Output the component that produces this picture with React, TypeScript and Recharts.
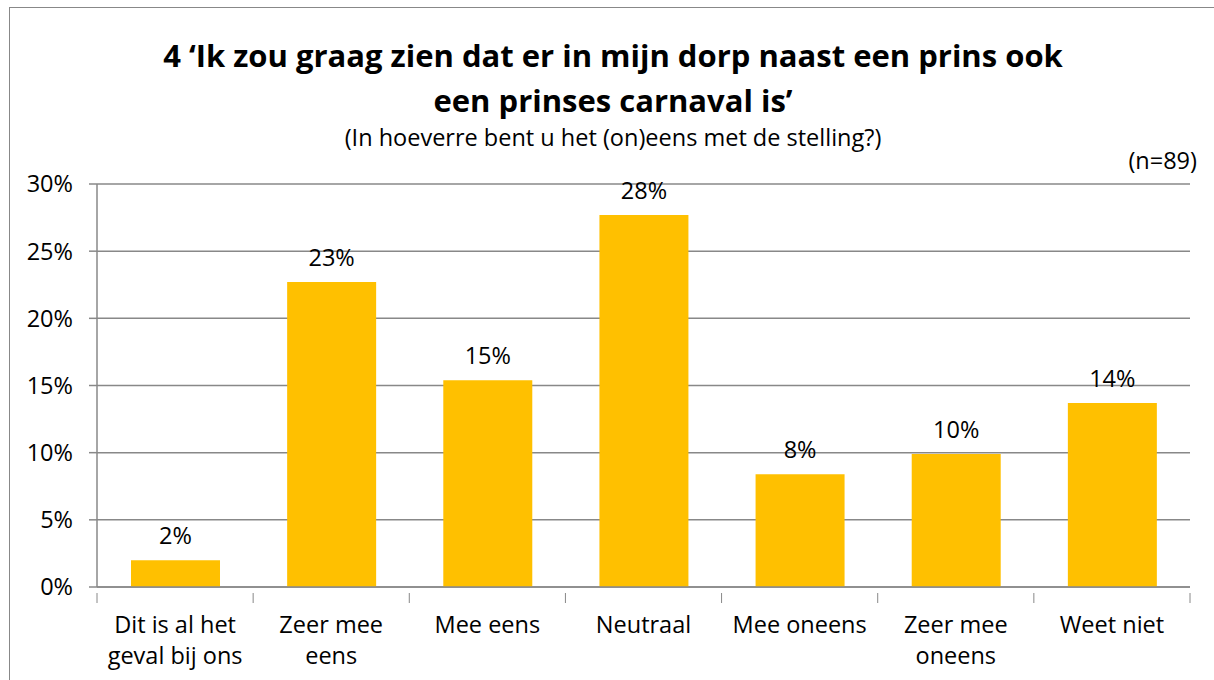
import { BarChart, Bar, XAxis, YAxis, CartesianGrid, LabelList } from "recharts";

const categories = [
  "Dit is al het\ngeval bij ons",
  "Zeer mee\neens",
  "Mee eens",
  "Neutraal",
  "Mee oneens",
  "Zeer mee\noneens",
  "Weet niet",
];
const values = [2.0, 22.7, 15.4, 27.7, 8.4, 9.9, 13.7];
const yTicks = [0, 5, 10, 15, 20, 25, 30];

const data = categories.map((c, i) => ({ name: c, value: values[i] }));

const FONT = "'Open Sans', sans-serif";
const GRID = "#888888";
const FS = 23.5;

function CatTick(props: any) {
  const { x, y, payload, index } = props;
  const half = 1093 / 7 / 2;
  const lines = String(payload.value).split("\n");
  return (
    <g>
      <line x1={x - half} x2={x - half} y1={y - 2} y2={y + 8} stroke={GRID} />
      {index === categories.length - 1 && (
        <line x1={x + half} x2={x + half} y1={y - 2} y2={y + 8} stroke={GRID} />
      )}
      {lines.map((l, i) => (
        <text key={i} x={x} y={y + 38 + i * 31} textAnchor="middle" fontSize={FS} fill="#000" fontFamily={FONT}>
          {l}
        </text>
      ))}
    </g>
  );
}

export default function App() {
  return (
    <div style={{ position: "fixed", left: 0, top: 0, width: 1214, height: 680, overflow: "hidden", background: "#fff", fontFamily: FONT }}>
      <div style={{ position: "absolute", left: 9, top: 7, width: 1240, height: 700, border: "1px solid #888" }} />
      <div style={{ position: "absolute", left: 0, width: 1226, top: 33, textAlign: "center", fontSize: 31, fontWeight: 700, lineHeight: "45px", color: "#000" }}>
        4 ‘Ik zou graag zien dat er in mijn dorp naast een prins ook
        <br />
        een prinses carnaval is’
      </div>
      <div style={{ position: "absolute", left: 0, width: 1226, top: 121, textAlign: "center", fontSize: FS, lineHeight: "32px", color: "#000" }}>
        (In hoeverre bent u het (on)eens met de stelling?)
      </div>
      <div style={{ position: "absolute", right: 17, top: 144, fontSize: FS, lineHeight: "32px", color: "#000" }}>(n=89)</div>
      <div style={{ position: "absolute", left: 0, top: 0 }}>
        <BarChart width={1214} height={680} data={data} margin={{ top: 184, right: 24, left: 0, bottom: 0 }}>
          <CartesianGrid vertical={false} stroke={GRID} strokeWidth={1.5} />
          <XAxis
            dataKey="name"
            height={93}
            interval={0}
            axisLine={{ stroke: GRID, strokeWidth: 1.5 }}
            tickLine={false}
            tick={<CatTick />}
          />
          <YAxis
            width={97}
            domain={[0, 30]}
            ticks={yTicks}
            interval={0}
            tickFormatter={(v: number) => `${v}%`}
            axisLine={{ stroke: GRID, strokeWidth: 1.5 }}
            tickLine={{ stroke: GRID, strokeWidth: 1.5 }}
            tickSize={8}
            tickMargin={16}
            tick={{ fontSize: FS, fill: "#000", fontFamily: FONT }}
          />
          <Bar dataKey="value" fill="#FFC000" barSize={89} isAnimationActive={false}>
            <LabelList
              dataKey="value"
              position="top"
              offset={16}
              formatter={(v: number) => `${Math.round(v)}%`}
              style={{ fontSize: FS, fill: "#000", fontFamily: FONT }}
            />
          </Bar>
        </BarChart>
      </div>
    </div>
  );
}
